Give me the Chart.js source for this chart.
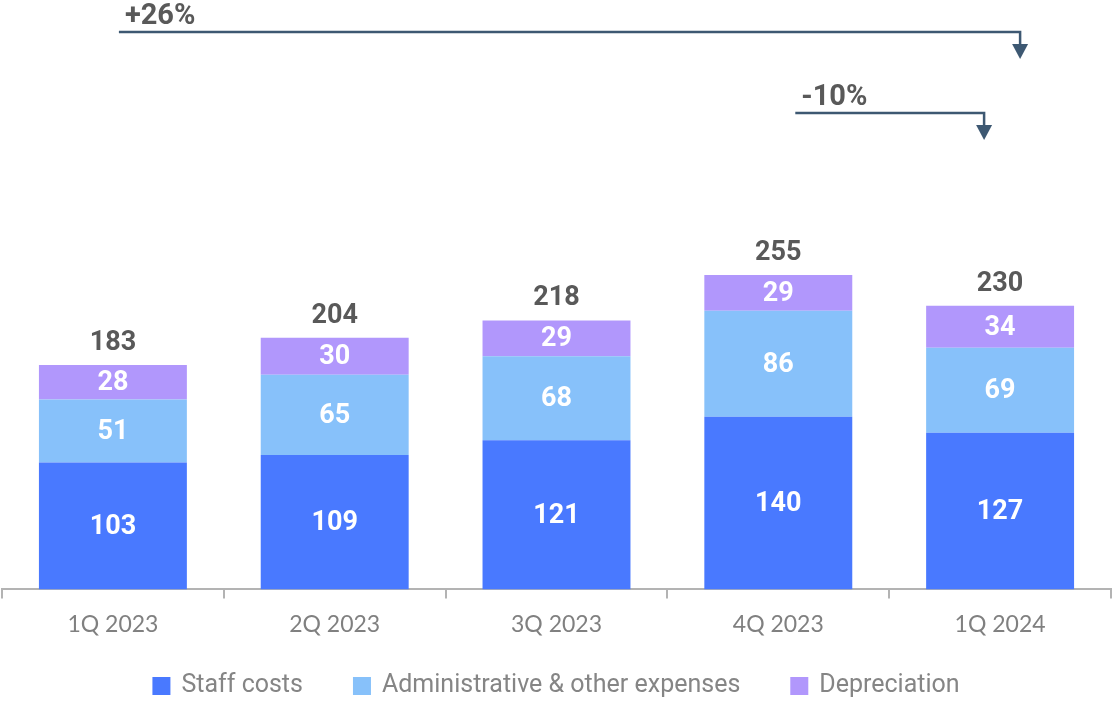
<!DOCTYPE html>
<html>
<head>
<meta charset="utf-8">
<script src="https://cdn.jsdelivr.net/npm/chart.js@4.4.1/dist/chart.umd.min.js"></script>
<style>
	html, body { margin: 0; padding: 0; background: #fff; }
	#wrap { width: 1112px; height: 702px; position: relative; }
</style>
</head>
<body>
<div id="wrap"><canvas id="opex-chart"></canvas></div>
<script>
const quarters = ['1Q 2023', '2Q 2023', '3Q 2023', '4Q 2023', '1Q 2024'];
const staffCosts = [103, 109, 121, 140, 127];
const adminExpenses = [51, 65, 68, 86, 69];
const depreciation = [28, 30, 29, 29, 34];
const totals = [183, 204, 218, 255, 230];

// change arrows: [from index, to index, label]
const changes = [
	{ from: 0, to: 4, text: '+26%', fromOffset: 6, toOffset: 20, y: 32 },
	{ from: 3, to: 4, text: '-10%', fromOffset: 17, toOffset: -16, y: 113 },
];

const NUM_FONT = 'bold 27px Roboto, "DejaVu Sans", sans-serif';
const LEGEND_FONT = '25px Roboto, Lato, sans-serif';

const valueLabels = {
	id: 'valueLabels',
	afterDatasetsDraw(chart) {
		const { ctx } = chart;
		ctx.save();
		ctx.font = NUM_FONT;
		ctx.textAlign = 'center';
		ctx.textBaseline = 'middle';
		ctx.fillStyle = '#ffffff';
		chart.data.datasets.forEach((ds, di) => {
			const meta = chart.getDatasetMeta(di);
			meta.data.forEach((bar, i) => {
				const mid = (bar.y + bar.base) / 2;
				ctx.fillText(String(ds.data[i]), bar.x, mid + 1);
			});
		});
		const top = chart.getDatasetMeta(chart.data.datasets.length - 1);
		ctx.fillStyle = '#595959';
		top.data.forEach((bar, i) => {
			ctx.fillText(String(totals[i]), bar.x, bar.y - 22);
		});
		ctx.restore();
	},
};

const changeArrows = {
	id: 'changeArrows',
	afterDraw(chart) {
		const { ctx } = chart;
		const x = chart.scales.x;
		ctx.save();
		changes.forEach((c) => {
			const x0 = x.getPixelForValue(c.from) + c.fromOffset;
			const x1 = x.getPixelForValue(c.to) + c.toOffset;
			const y = c.y;
			ctx.strokeStyle = '#3d5872';
			ctx.fillStyle = '#3d5872';
			ctx.lineWidth = 2.5;
			ctx.beginPath();
			ctx.moveTo(x0, y);
			ctx.lineTo(x1, y);
			ctx.lineTo(x1, y + 13);
			ctx.stroke();
			ctx.beginPath();
			ctx.moveTo(x1 - 8, y + 12);
			ctx.lineTo(x1 + 8, y + 12);
			ctx.lineTo(x1, y + 27);
			ctx.closePath();
			ctx.fill();
			ctx.font = 'bold 29px Roboto, "DejaVu Sans", sans-serif';
			ctx.fillStyle = '#595959';
			ctx.textAlign = 'left';
			ctx.textBaseline = 'alphabetic';
			ctx.fillText(c.text, x0 + 6, y - 8);
		});
		ctx.restore();
	},
};

const bottomLegend = {
	id: 'bottomLegend',
	afterDraw(chart) {
		const { ctx } = chart;
		const box = 18, textGap = 11, itemGap = 50, cy = 686;
		ctx.save();
		ctx.font = LEGEND_FONT;
		const items = chart.data.datasets.map((ds) => ({
			text: ds.label,
			color: ds.backgroundColor,
			w: box + textGap + ctx.measureText(ds.label).width,
		}));
		const total = items.reduce((s, it) => s + it.w, 0) + itemGap * (items.length - 1);
		let cx = (chart.width - total) / 2;
		ctx.textBaseline = 'middle';
		ctx.textAlign = 'left';
		items.forEach((it) => {
			ctx.fillStyle = it.color;
			ctx.fillRect(cx, cy - box / 2, box, box);
			ctx.fillStyle = '#858585';
			ctx.fillText(it.text, cx + box + textGap, cy);
			cx += it.w + itemGap;
		});
		ctx.restore();
	},
};

new Chart(document.getElementById('opex-chart'), {
	type: 'bar',
	data: {
		labels: quarters,
		datasets: [
			{ label: 'Staff costs', data: staffCosts, backgroundColor: '#4979ff' },
			{ label: 'Administrative & other expenses', data: adminExpenses, backgroundColor: '#87c1fa' },
			{ label: 'Depreciation', data: depreciation, backgroundColor: '#b197fc' },
		],
	},
	options: {
		responsive: true,
		maintainAspectRatio: false,
		animation: false,
		layout: { padding: { top: 0, left: 2, right: 1, bottom: 52 } },
		datasets: {
			bar: { categoryPercentage: 1, barPercentage: 0.667, borderWidth: 0 },
		},
		plugins: {
			legend: { display: false },
			tooltip: { enabled: false },
		},
		scales: {
			x: {
				stacked: true,
				grid: {
					offset: true,
					drawOnChartArea: false,
					tickLength: 9,
					color: '#b3b3b3',
					lineWidth: 2,
				},
				border: { color: '#b3b3b3', width: 2 },
				ticks: {
					color: '#808080',
					font: { family: 'Lato, Roboto, sans-serif', size: 23 },
					padding: 12,
				},
			},
			y: {
				stacked: true,
				display: false,
				min: 0,
				max: 478,
			},
		},
	},
	plugins: [valueLabels, changeArrows, bottomLegend],
});
</script>
</body>
</html>
